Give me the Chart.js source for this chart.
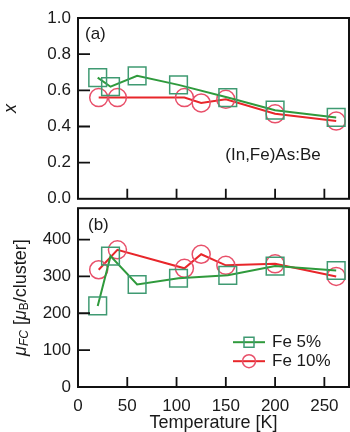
<!DOCTYPE html>
<html>
<head>
<meta charset="utf-8">
<script src="https://cdn.jsdelivr.net/npm/chart.js@4"></script>
<style>
  body { margin: 0; background: #fff; }
  #wrap { position: relative; width: 350px; height: 432px; overflow: hidden; }
  #wrap canvas { position: absolute; left: 0; }
  #chartA { top: 0; }
  #chartB { top: 191px; }
</style>
</head>
<body>
<div id="wrap">
  <canvas id="chartA" width="350" height="216"></canvas>
  <canvas id="chartB" width="350" height="243"></canvas>
</div>
<script>
// ---- data ----
// Fe 5% (green squares)
const temp5 = [20, 33, 60, 102, 152, 200, 262];
const frac5 = [0.67, 0.62, 0.68, 0.63, 0.56, 0.49, 0.45];
const mu5   = [220, 355, 278, 295, 303, 328, 316];
// Fe 10% (red circles)
const temp10 = [21, 40, 108, 125, 150, 200, 262];
const frac10 = [0.56, 0.56, 0.56, 0.53, 0.55, 0.47, 0.43];
const mu10   = [318, 372, 322, 360, 330, 334, 300];

const tempTicks = [0, 50, 100, 150, 200, 250];
const fracTicks = [0, 0.2, 0.4, 0.6, 0.8, 1.0];
const muTicks   = [0, 100, 200, 300, 400];

const seriesNames = ['Fe 5%', 'Fe 10%'];

const FONT = '"Liberation Sans", Arial, sans-serif';
const INK = '#1a1a1a';
const GREEN = '#2f9a3c', GREEN_PT = '#3f9a72';
const RED = '#e8262a', RED_PT = '#e8506a';

function pts(xs, ys) {
  return xs.map((x, i) => ({ x: x, y: ys[i] }));
}

function datasets(ys5, ys10) {
  return [
    { label: seriesNames[0], data: pts(temp5, ys5), borderColor: GREEN, borderWidth: 2,
      pointStyle: 'rect', pointRadius: 12.5, pointBorderColor: GREEN_PT, pointBorderWidth: 1.5,
      pointBackgroundColor: 'rgba(0,0,0,0)', tension: 0 },
    { label: seriesNames[1], data: pts(temp10, ys10), borderColor: RED, borderWidth: 2,
      pointStyle: 'circle', pointRadius: 9, pointBorderColor: RED_PT, pointBorderWidth: 1.5,
      pointBackgroundColor: 'rgba(0,0,0,0)', tension: 0 }
  ];
}

// frame, inward ticks and the text inside the plot
const framePlugin = {
  id: 'frame',
  afterDraw(chart, args, opts) {
    const c = chart.ctx, a = chart.chartArea;
    const xs = chart.scales.x, ys = chart.scales.y;
    c.save();
    c.strokeStyle = '#111';
    c.lineWidth = 2;
    c.strokeRect(a.left, a.top, a.right - a.left, a.bottom - a.top);
    c.lineWidth = 1.8;
    c.beginPath();
    tempTicks.forEach(t => {
      if (t === 0) return;
      const px = xs.getPixelForValue(t);
      c.moveTo(px, a.bottom);
      c.lineTo(px, a.bottom - 10);
    });
    opts.yTicks.forEach(v => {
      if (v === 0 || v === ys.max) return;
      const py = ys.getPixelForValue(v);
      c.moveTo(a.left, py);
      c.lineTo(a.left + 12, py);
    });
    c.stroke();

    c.fillStyle = INK;
    c.font = '17px ' + FONT;
    c.textBaseline = 'middle';
    (opts.texts || []).forEach(t => {
      c.textAlign = t.align || 'left';
      c.fillText(t.text, t.x, a.top + t.dy);
    });

    if (opts.legend) {
      const L = opts.legend;
      chart.data.datasets.forEach((ds, i) => {
        const y = a.top + L.dy + i * L.gap;
        c.strokeStyle = ds.borderColor;
        c.lineWidth = 2;
        c.beginPath();
        c.moveTo(L.x, y);
        c.lineTo(L.x + 32, y);
        c.stroke();
        c.strokeStyle = ds.pointBorderColor;
        c.lineWidth = 1.5;
        c.beginPath();
        if (ds.pointStyle === 'rect') c.rect(L.x + 11, y - 5, 10, 10);
        else c.arc(L.x + 16, y, 6.5, 0, Math.PI * 2);
        c.stroke();
        c.fillStyle = INK;
        c.textAlign = 'left';
        c.fillText(ds.label, L.x + 39, y);
      });
    }
    c.restore();
  }
};

// rotated y title with subscripts: mu_FC [mu_B/cluster]
function drawMuTitle(c, cx, cy) {
  const parts = [
    { t: 'μ', f: 'italic 18px ' + FONT, dy: 0 },
    { t: 'FC', f: 'italic 12px ' + FONT, dy: 4 },
    { t: ' [', f: '18px ' + FONT, dy: 0 },
    { t: 'μ', f: 'italic 18px ' + FONT, dy: 0 },
    { t: 'B', f: '12px ' + FONT, dy: 4 },
    { t: '/cluster]', f: '18px ' + FONT, dy: 0 }
  ];
  c.save();
  let w = 0;
  parts.forEach(p => { c.font = p.f; p.w = c.measureText(p.t).width; w += p.w; });
  c.translate(cx, cy);
  c.rotate(-Math.PI / 2);
  c.fillStyle = INK;
  c.textBaseline = 'middle';
  c.textAlign = 'left';
  let x = -w / 2;
  parts.forEach(p => { c.font = p.f; c.fillText(p.t, x, p.dy); x += p.w; });
  c.restore();
}

const muTitlePlugin = {
  id: 'muTitle',
  afterDraw(chart) {
    const a = chart.chartArea;
    drawMuTitle(chart.ctx, 21, (a.top + a.bottom) / 2);
  }
};

function keepTicks(list) {
  return function (scale) {
    scale.ticks = list.map(v => ({ value: v }));
  };
}

const tickFont = { family: FONT, size: 17 };

// ---- panel (a) ----
new Chart(document.getElementById('chartA'), {
  type: 'line',
  data: { datasets: datasets(frac5, frac10) },
  options: {
    responsive: false,
    animation: false,
    layout: { autoPadding: false, padding: { top: 18, right: 1, bottom: 0, left: 0 } },
    plugins: {
      legend: { display: false },
      tooltip: { enabled: false },
      frame: {
        yTicks: fracTicks,
        texts: [
          { text: '(a)', x: 85, dy: 16 },
          { text: '(In,Fe)As:Be', x: 273, dy: 137, align: 'center' }
        ]
      }
    },
    scales: {
      x: { type: 'linear', min: 0, max: 275, display: false },
      y: {
        min: 0, max: 1,
        afterBuildTicks: keepTicks(fracTicks),
        afterFit: s => { s.width = 78; },
        grid: { display: false, drawTicks: false },
        border: { display: false },
        ticks: { font: tickFont, color: INK, padding: 7, callback: v => v.toFixed(1) },
        title: { display: true, text: 'x', font: { family: FONT, size: 18, style: 'italic' }, color: INK, padding: 0 }
      }
    }
  },
  plugins: [framePlugin]
});

// ---- panel (b) ----
new Chart(document.getElementById('chartB'), {
  type: 'line',
  data: { datasets: datasets(mu5, mu10) },
  options: {
    responsive: false,
    animation: false,
    layout: { autoPadding: false, padding: { top: 0, right: 1, bottom: 0, left: 0 } },
    plugins: {
      legend: { display: false },
      tooltip: { enabled: false },
      frame: {
        yTicks: muTicks,
        texts: [{ text: '(b)', x: 88, dy: 17 }],
        legend: { x: 233, dy: 134, gap: 19 }
      }
    },
    scales: {
      x: {
        type: 'linear', min: 0, max: 275,
        afterBuildTicks: keepTicks(tempTicks),
        afterFit: s => { s.height = 47; },
        grid: { display: false, drawTicks: false },
        border: { display: false },
        ticks: { font: tickFont, color: INK, padding: 9, maxRotation: 0 },
        title: { display: true, text: 'Temperature [K]', font: { family: FONT, size: 18 }, color: INK, padding: 0 }
      },
      y: {
        min: 0, max: 485,
        afterBuildTicks: keepTicks(muTicks),
        afterFit: s => { s.width = 78; },
        grid: { display: false, drawTicks: false },
        border: { display: false },
        ticks: { font: tickFont, color: INK, padding: 7 },
        title: { display: false }
      }
    }
  },
  plugins: [framePlugin, muTitlePlugin]
});
</script>
</body>
</html>
